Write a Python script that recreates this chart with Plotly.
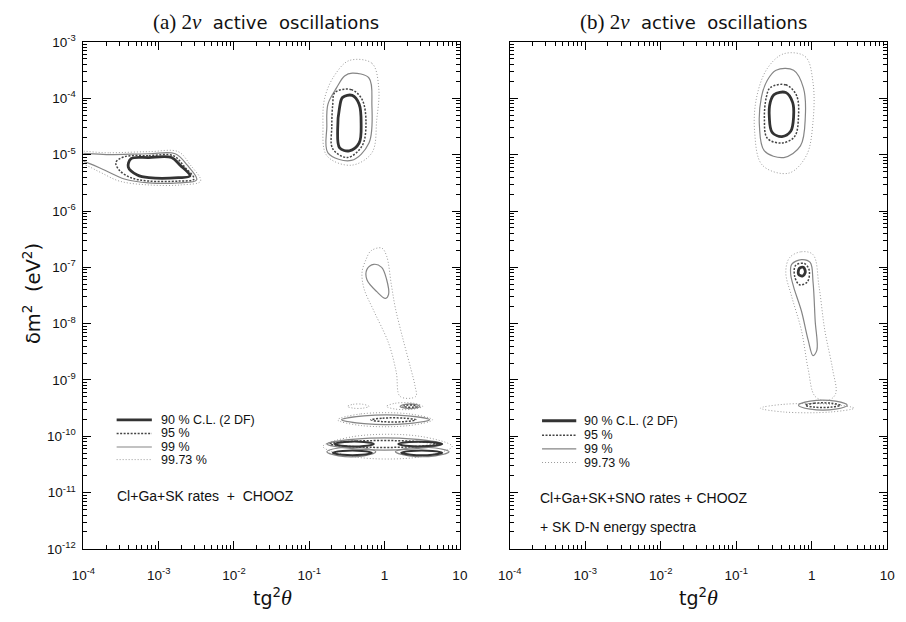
import plotly.graph_objects as go

# ---------------- axis ticks ----------------
x_major = [1e-4, 1e-3, 1e-2, 1e-1, 1, 10]
x_major_text = ["10<sup>-4</sup>", "10<sup>-3</sup>", "10<sup>-2</sup>",
                "10<sup>-1</sup>", "1", "10"]
y_major = [1e-12, 1e-11, 1e-10, 1e-9, 1e-8, 1e-7, 1e-6, 1e-5, 1e-4, 1e-3]
y_major_text = ["10<sup>-12</sup>", "10<sup>-11</sup>", "10<sup>-10</sup>",
                "10<sup>-9</sup>", "10<sup>-8</sup>", "10<sup>-7</sup>",
                "10<sup>-6</sup>", "10<sup>-5</sup>", "10<sup>-4</sup>",
                "10<sup>-3</sup>"]
x_minor = [m * 10.0 ** e for e in range(-4, 1) for m in range(2, 10)]
y_minor = [m * 10.0 ** e for e in range(-12, -3) for m in range(2, 10)]

# ---------------- allowed regions, panel (a) ----------------
# each contour: list of (tg^2 theta, delta m^2 [eV^2]) points
a_sma_90 = [(4.3e-4, 8.5e-6), (7.4e-4, 8.9e-6), (1.48e-3, 8.9e-6), (1.93e-3, 6.5e-6),
            (2.6e-3, 4.2e-6), (1.82e-3, 3.9e-6), (7.4e-4, 3.9e-6), (5.2e-4, 4.35e-6),
            (3.95e-4, 6.0e-6)]
a_sma_95 = [(3.5e-4, 9.2e-6), (7.4e-4, 9.6e-6), (1.57e-3, 9.6e-6), (2.18e-3, 6.2e-6),
            (2.94e-3, 3.7e-6), (1.82e-3, 3.4e-6), (7.4e-4, 3.4e-6), (4.3e-4, 3.9e-6),
            (3.0e-4, 5.3e-6), (2.7e-4, 7.3e-6)]
a_sma_99 = [(6.8e-5, 1.0e-5), (2.24e-4, 1.0e-5), (7.4e-4, 1.04e-5), (1.66e-3, 1.04e-5),
            (2.4e-3, 6.5e-6), (3.2e-3, 3.6e-6), (1.82e-3, 3.16e-6), (7.4e-4, 3.16e-6),
            (3.5e-4, 3.7e-6), (1.93e-4, 5.3e-6), (1.0e-4, 7.6e-6), (6.8e-5, 8.2e-6)]
a_sma_9973 = [(5.0e-5, 1.08e-5), (2.24e-4, 1.08e-5), (7.4e-4, 1.13e-5), (1.82e-3, 1.13e-5),
              (2.6e-3, 6.7e-6), (3.6e-3, 3.4e-6), (1.93e-3, 2.9e-6), (7.4e-4, 2.9e-6),
              (3.0e-4, 3.4e-6), (1.66e-4, 4.9e-6), (1.0e-4, 6.7e-6), (5.0e-5, 7.3e-6)]

a_lma_90 = [(0.277, 1.04e-4), (0.372, 1.13e-4), (0.459, 7.9e-5), (0.488, 3.56e-5),
            (0.459, 1.61e-5), (0.34, 1.17e-5), (0.253, 1.32e-5), (0.238, 2.8e-5),
            (0.253, 7.0e-5)]
a_lma_95 = [(0.218, 1.27e-4), (0.361, 1.43e-4), (0.502, 9.6e-5), (0.566, 3.56e-5),
            (0.502, 1.43e-5), (0.321, 8.9e-6), (0.205, 1.27e-5), (0.199, 3.16e-5),
            (0.205, 7.9e-5)]
a_lma_99 = [(0.294, 2.5e-4), (0.372, 2.8e-4), (0.62, 2.3e-4), (0.678, 7.9e-5),
            (0.62, 1.61e-5), (0.361, 7.9e-6), (0.177, 1.08e-5), (0.171, 3.16e-5),
            (0.177, 7.9e-5), (0.231, 1.55e-4)]
a_lma_9973 = [(0.34, 4.7e-4), (0.678, 4.2e-4), (0.836, 1.55e-4), (0.787, 4.2e-5),
              (0.678, 1.08e-5), (0.361, 6.5e-6), (0.171, 9.6e-6), (0.152, 3.56e-5),
              (0.161, 1.04e-4), (0.218, 2.6e-4)]

a_low_99 = [(0.583, 9.2e-8), (0.72, 1.13e-7), (0.914, 1.0e-7), (1.06, 6.2e-8),
            (1.13, 3.3e-8), (1.03, 2.8e-8), (0.787, 3.7e-8), (0.583, 6.0e-8)]
a_low_9973 = [(0.566, 1.37e-7), (0.658, 1.96e-7), (0.914, 2.2e-7), (1.06, 1.61e-7),
              (1.23, 4.9e-8), (1.39, 1.89e-8), (1.77, 5.1e-9), (2.24, 1.55e-9),
              (2.53, 7.9e-10), (2.6, 5.1e-10), (1.61, 5.1e-10), (1.43, 1.37e-9),
              (1.13, 4.5e-9), (0.72, 1.68e-8), (0.533, 4.2e-8), (0.502, 8.2e-8)]

# vacuum-oscillation islands below 1e-9 eV^2
a_vac_9973_1 = [(0.321, 3.4e-10), (0.384, 3.7e-10), (0.517, 3.7e-10), (0.62, 3.4e-10),
                (0.517, 3.16e-10), (0.384, 3.16e-10)]
a_vac_9973_2 = [(1.06, 3.4e-10), (1.39, 3.86e-10), (2.45, 3.86e-10), (3.2, 3.4e-10),
                (2.45, 3.04e-10), (1.39, 3.04e-10)]
a_vac_99_1 = [(1.61, 3.4e-10), (1.88, 3.7e-10), (2.53, 3.7e-10), (2.94, 3.4e-10),
              (2.53, 3.16e-10), (1.88, 3.16e-10)]
a_vac_95_1 = [(1.77, 3.4e-10), (1.95, 3.56e-10), (2.45, 3.56e-10), (2.69, 3.4e-10),
              (2.45, 3.3e-10), (1.95, 3.3e-10)]
a_vac_9973_3 = [(0.238, 1.96e-10), (0.488, 2.5e-10), (2.11, 2.5e-10), (4.33, 1.96e-10),
                (2.11, 1.55e-10), (0.488, 1.55e-10)]
a_vac_99_2 = [(0.268, 1.96e-10), (0.533, 2.3e-10), (2.05, 2.3e-10), (3.96, 1.96e-10),
              (2.05, 1.68e-10), (0.533, 1.68e-10)]
a_vac_95_2 = [(0.658, 1.96e-10), (0.942, 2.1e-10), (1.82, 2.1e-10), (2.6, 1.96e-10),
              (1.82, 1.82e-10), (0.942, 1.82e-10)]
a_vac_9973_4 = [(0.152, 6.6e-11), (0.407, 1.0e-10), (2.94, 1.0e-10), (7.9, 6.6e-11),
                (2.94, 4.3e-11), (0.407, 4.3e-11)]
a_vac_99_3 = [(0.171, 7.3e-11), (0.407, 8.9e-11), (2.45, 8.9e-11), (5.83, 7.3e-11),
              (2.45, 6.0e-11), (0.407, 6.0e-11)]
a_vac_99_4 = [(0.171, 5.3e-11), (0.245, 6.2e-11), (0.533, 6.2e-11), (0.764, 5.3e-11),
              (0.533, 4.5e-11), (0.245, 4.5e-11)]
a_vac_99_5 = [(1.39, 5.3e-11), (2.11, 6.2e-11), (4.73, 6.2e-11), (7.2, 5.3e-11),
              (4.73, 4.5e-11), (2.11, 4.5e-11)]
a_vac_95_3 = [(0.188, 7.3e-11), (0.42, 8.2e-11), (2.24, 8.2e-11), (5.0, 7.3e-11),
              (2.24, 6.5e-11), (0.42, 6.5e-11)]
a_vac_90_1 = [(0.218, 7.3e-11), (0.294, 7.9e-11), (0.533, 7.9e-11), (0.72, 7.3e-11),
              (0.533, 6.7e-11), (0.294, 6.7e-11)]
a_vac_90_2 = [(1.52, 7.3e-11), (2.11, 7.9e-11), (3.84, 7.9e-11), (5.83, 7.3e-11),
              (3.84, 6.7e-11), (2.11, 6.7e-11)]
a_vac_90_3 = [(0.205, 5.1e-11), (0.277, 5.5e-11), (0.502, 5.5e-11), (0.678, 5.1e-11),
              (0.502, 4.7e-11), (0.277, 4.7e-11)]
a_vac_90_4 = [(1.66, 5.1e-11), (2.24, 5.5e-11), (4.33, 5.5e-11), (5.83, 5.1e-11),
              (4.33, 4.7e-11), (2.24, 4.7e-11)]

# ---------------- allowed regions, panel (b) ----------------
b_lma_90 = [(0.317, 1.17e-4), (0.453, 1.27e-4), (0.558, 8.5e-5), (0.575, 4.7e-5),
            (0.526, 2.6e-5), (0.403, 2.1e-5), (0.299, 2.5e-5), (0.274, 4.7e-5),
            (0.282, 8.5e-5)]
b_lma_95 = [(0.282, 1.55e-4), (0.453, 1.74e-4), (0.628, 1.13e-4), (0.667, 4.7e-5),
            (0.593, 2.1e-5), (0.403, 1.61e-5), (0.258, 1.96e-5), (0.236, 4.3e-5),
            (0.25, 1.04e-4)]
b_lma_99 = [(0.337, 3.16e-4), (0.575, 3.16e-4), (0.774, 1.55e-4), (0.822, 4.7e-5),
            (0.708, 1.43e-5), (0.427, 8.9e-6), (0.236, 1.17e-5), (0.203, 3.16e-5),
            (0.215, 1.04e-4), (0.258, 2.1e-4)]
b_lma_9973 = [(0.427, 6.2e-4), (0.822, 5.5e-4), (1.04, 1.89e-4), (1.04, 3.9e-5),
              (0.847, 9.6e-6), (0.495, 4.7e-6), (0.222, 6.5e-6), (0.175, 2.6e-5),
              (0.186, 1.04e-4), (0.258, 3.4e-4)]

b_low_90 = [(0.687, 9.6e-8), (0.774, 1.0e-7), (0.822, 8.2e-8), (0.751, 7.0e-8),
            (0.667, 7.6e-8)]
b_low_95 = [(0.611, 1.08e-7), (0.798, 1.17e-7), (0.925, 8.9e-8), (0.873, 5.5e-8),
            (0.687, 4.9e-8), (0.593, 7.0e-8)]
b_low_99 = [(0.542, 1.13e-7), (0.73, 1.37e-7), (0.953, 1.22e-7), (1.04, 5.5e-8),
            (1.11, 1.13e-8), (1.17, 3.4e-9), (1.04, 2.7e-9), (0.897, 5.1e-9),
            (0.73, 1.68e-8), (0.575, 4.5e-8), (0.526, 7.6e-8)]
b_low_9973 = [(0.51, 1.49e-7), (0.73, 1.89e-7), (1.04, 1.68e-7), (1.25, 4.5e-8),
              (1.49, 7.6e-9), (1.89, 1.55e-9), (2.07, 5.7e-10), (1.63, 4.3e-10),
              (1.11, 5.1e-10), (0.897, 1.55e-9), (0.73, 7.6e-9), (0.542, 3.04e-8),
              (0.453, 8.2e-8)]

b_vac_9973 = [(0.209, 3.16e-10), (0.427, 3.7e-10), (1.78, 3.7e-10), (3.64, 3.16e-10),
              (1.78, 2.7e-10), (0.427, 2.7e-10)]
b_vac_99 = [(0.667, 3.56e-10), (0.953, 4.2e-10), (2.07, 4.2e-10), (2.95, 3.56e-10),
            (2.07, 3.04e-10), (0.953, 3.04e-10)]
b_vac_95 = [(0.822, 3.56e-10), (1.07, 3.86e-10), (1.84, 3.86e-10), (2.4, 3.56e-10),
            (1.84, 3.3e-10), (1.07, 3.3e-10)]

# ---------------- confidence levels ----------------
cl_levels = ["90", "95", "99", "99.73"]
cl_labels = ["90 % C.L. (2 DF)", "95 %", "99 %", "99.73 %"]
line_styles = {
    "90": dict(color="#333333", width=2.8, dash="solid"),
    "95": dict(color="#444444", width=1.5, dash="2px,1.5px"),
    "99": dict(color="#858585", width=1.2, dash="solid"),
    "99.73": dict(color="#9a9a9a", width=1.0, dash="1px,2px"),
}

panel_a = [
    ("99.73", a_sma_9973), ("99", a_sma_99), ("95", a_sma_95), ("90", a_sma_90),
    ("99.73", a_lma_9973), ("99", a_lma_99), ("95", a_lma_95), ("90", a_lma_90),
    ("99.73", a_low_9973), ("99", a_low_99),
    ("99.73", a_vac_9973_1), ("99.73", a_vac_9973_2), ("99", a_vac_99_1), ("95", a_vac_95_1),
    ("99.73", a_vac_9973_3), ("99", a_vac_99_2), ("95", a_vac_95_2),
    ("99.73", a_vac_9973_4), ("99", a_vac_99_3), ("99", a_vac_99_4), ("99", a_vac_99_5),
    ("95", a_vac_95_3), ("90", a_vac_90_1), ("90", a_vac_90_2), ("90", a_vac_90_3),
    ("90", a_vac_90_4),
]
panel_b = [
    ("99.73", b_lma_9973), ("99", b_lma_99), ("95", b_lma_95), ("90", b_lma_90),
    ("99.73", b_low_9973), ("99", b_low_99), ("95", b_low_95), ("90", b_low_90),
    ("99.73", b_vac_9973), ("99", b_vac_99), ("95", b_vac_95),
]

fig = go.Figure()


def add_contour(level, pts, xa, ya, thin=False):
    xs = [p[0] for p in pts] + [pts[0][0]]
    ys = [p[1] for p in pts] + [pts[0][1]]
    style = dict(line_styles[level])
    if thin and level == "90":
        style["width"] = 2.0
    fig.add_trace(go.Scatter(
        x=xs, y=ys, mode="lines", xaxis=xa, yaxis=ya,
        line=dict(shape="spline", smoothing=1.0, **style),
        showlegend=False, hoverinfo="skip"))


for level, pts in panel_a:
    add_contour(level, pts, "x", "y", thin=pts[0][1] < 1e-9)
for level, pts in panel_b:
    add_contour(level, pts, "x2", "y2")

W, H = 906, 622
FONT = "Liberation Sans, Arial, sans-serif"
WIDE = "DejaVu Sans, Verdana, sans-serif"
SERIF = "Liberation Serif, DejaVu Serif, serif"


def px(x):
    return x / W


def py(y):
    return 1 - y / H


TICKFONT = dict(family=FONT, size=13.5, color="#111")


def xaxis_cfg(domain, anchor):
    return dict(
        type="log", range=[-4, 1], domain=domain, anchor=anchor,
        tickmode="array", tickvals=x_major, ticktext=x_major_text,
        ticks="inside", ticklen=8, tickwidth=1, tickcolor="black",
        ticklabelstandoff=14,
        minor=dict(tickmode="array", tickvals=x_minor, ticks="inside",
                   ticklen=4, tickwidth=1, tickcolor="black"),
        showline=True, linecolor="black", linewidth=1, mirror="allticks",
        showgrid=False, zeroline=False, tickfont=TICKFONT,
    )


def yaxis_cfg(anchor, labels):
    return dict(
        type="log", range=[-12, -3], domain=[py(555), py(33)], anchor=anchor,
        tickmode="array", tickvals=y_major, ticktext=y_major_text,
        showticklabels=labels, ticklabelstandoff=4,
        ticks="inside", ticklen=8, tickwidth=1, tickcolor="black",
        minor=dict(tickmode="array", tickvals=y_minor, ticks="inside",
                   ticklen=4, tickwidth=1, tickcolor="black"),
        showline=True, linecolor="black", linewidth=1, mirror="allticks",
        showgrid=False, zeroline=False, tickfont=TICKFONT,
    )


annotations = []
shapes = []


def text(x, y, s, size, xanchor="left", angle=0, family=FONT):
    annotations.append(dict(
        x=px(x), y=py(y), xref="paper", yref="paper", text=s, showarrow=False,
        xanchor=xanchor, yanchor="middle", textangle=angle,
        font=dict(family=family, size=size, color="#111")))


# titles
title_fmt = '<span style="font-family:%s;font-size:21px">(%s) 2<i>ν</i></span>  active  oscillations'
text(260, 12, title_fmt % (SERIF, "a"), 18, "center", family=WIDE)
text(697, 12, title_fmt % (SERIF, "b"), 18, "center", family=WIDE)
# axis titles
xt = 'tg<sup>2</sup><span style="font-family:%s;font-size:22px"><i>θ</i></span>' % SERIF
text(266, 605, xt, 19, "center", family=WIDE)
text(702, 605, xt, 19, "center", family=WIDE)
text(20, 292, "δm<sup>2</sup>  (eV<sup>2</sup>)", 19.5, "center", -90, family=WIDE)

# legends
legend_rows = {"a": ([422, 436, 450, 463], 107, 143, 150),
               "b": ([423, 438, 452, 466], 542, 577, 583)}
for key, (rows, x0, x1, xt0) in legend_rows.items():
    for lvl, lab, yy in zip(cl_levels, cl_labels, rows):
        st = line_styles[lvl]
        shapes.append(dict(type="line", xref="paper", yref="paper",
                           x0=px(x0), x1=px(x1), y0=py(yy), y1=py(yy),
                           line=dict(color=st["color"], width=st["width"], dash=st["dash"])))
        text(xt0, yy, lab, 12.5)

text(105, 500, "Cl+Ga+SK rates  +  CHOOZ", 14)
text(538, 503, "Cl+Ga+SK+SNO rates + CHOOZ", 14)
text(538, 532, "+ SK D-N energy spectra", 14)

fig.update_layout(
    width=W, height=H, margin=dict(l=0, r=0, t=0, b=0),
    paper_bgcolor="white", plot_bgcolor="white", showlegend=False,
    xaxis=xaxis_cfg([px(73), px(458)], "y"),
    yaxis=yaxis_cfg("x", True),
    xaxis2=xaxis_cfg([px(509), px(895)], "y2"),
    yaxis2=yaxis_cfg("x2", False),
    annotations=annotations, shapes=shapes,
)

fig.write_html("out.html")
